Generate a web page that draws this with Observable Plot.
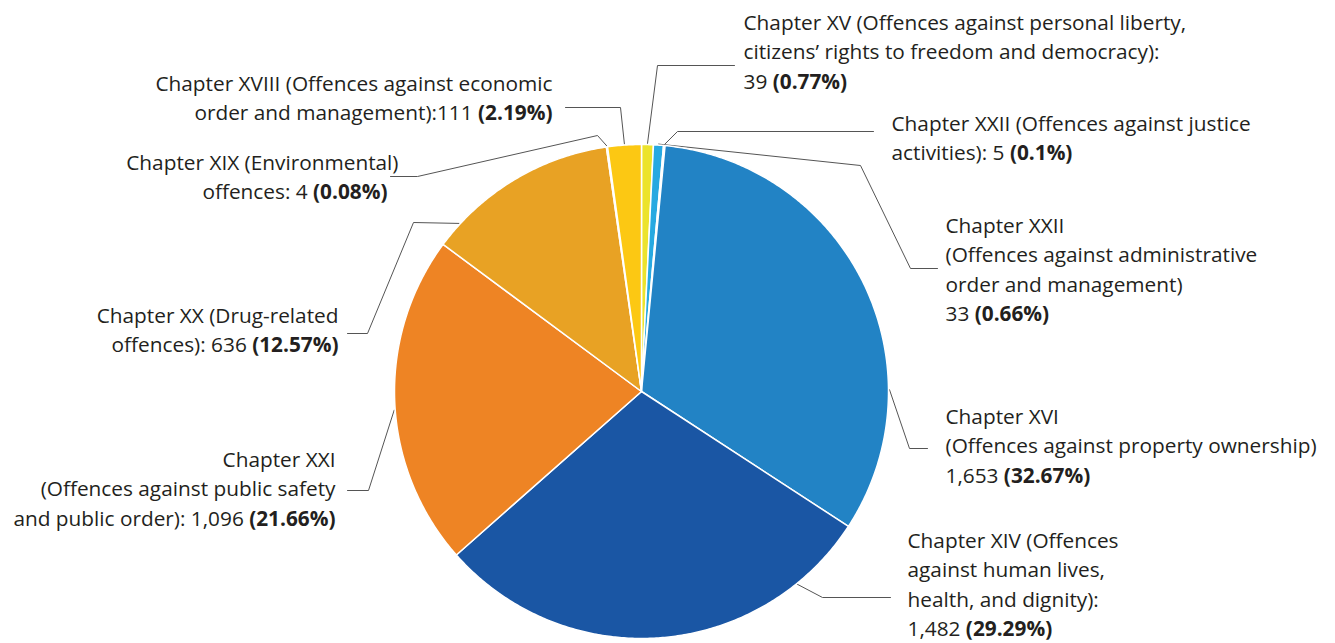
<!DOCTYPE html>
<html>
<head>
<meta charset="utf-8">
<script src="https://cdn.jsdelivr.net/npm/d3@7"></script>
<script src="https://cdn.jsdelivr.net/npm/@observablehq/plot@0.6"></script>
<style>
html, body { margin: 0; padding: 0; background: #ffffff; }
#chart svg { display: block; }
</style>
</head>
<body>
<div id="chart"></div>
<script>
// ---- Data (clockwise from 12 o'clock) ----
const chapterIds = ["XV", "XXII-admin", "XXII-justice", "XVI", "XIV", "XXI", "XX", "XIX", "XVIII"];
const counts = [39, 33, 5, 1653, 1482, 1096, 636, 4, 111];
const shares = [0.77, 0.66, 0.1, 32.67, 29.29, 21.66, 12.57, 0.08, 2.19];
const labelLines = [
  ["Chapter XV (Offences against personal liberty,", "citizens’ rights to freedom and democracy):", "{v}"],
  ["Chapter XXII", "(Offences against administrative", "order and management)", "{v}"],
  ["Chapter XXII (Offences against justice", "activities): {v}"],
  ["Chapter XVI", "(Offences against property ownership)", "{v}"],
  ["Chapter XIV (Offences", "against human lives,", "health, and dignity):", "{v}"],
  ["Chapter XXI", "(Offences against public safety", "and public order): {v}"],
  ["Chapter XX (Drug-related", "offences): {v}"],
  ["Chapter XIX (Environmental)", "offences: {v}"],
  ["Chapter XVIII (Offences against economic", "order and management):{v}"]
];

// ---- Styles & layout (not data) ----
const sliceColors = ["#ece32c", "#27a9e1", "#6cc5ee", "#2283c5", "#1a56a4", "#ee8424", "#e8a224", "#f0b323", "#fcc813"];
const W = 1335, H = 643;
const pie = {cx: 641, cy: 391, r: 247};
const lineStep = 29.5;
const labelLayout = {
  "XV":           {anchor: "start", x: [743], y: 29},
  "XXII-admin":   {anchor: "start", x: [945], y: 232},
  "XXII-justice": {anchor: "start", x: [891], y: 130},
  "XVI":          {anchor: "start", x: [945], y: 423},
  "XIV":          {anchor: "start", x: [907], y: 547},
  "XXI":          {anchor: "end",   x: [335], y: 466},
  "XX":           {anchor: "end",   x: [338], y: 322},
  "XIX":          {anchor: "end",   x: [398, 387], y: 169},
  "XVIII":        {anchor: "end",   x: [552], y: 90}
};
const leaderLayout = {
  "XV":           {f: 0.5,   pts: [[657, 65], [734, 65]]},
  "XXII-admin":   {f: 0.5,   pts: [[860, 165], [910, 268], [937, 268]]},
  "XXII-justice": {f: 0.5,   pts: [[677, 131], [873, 131]]},
  "XVI":          {f: 0.715, pts: [[909, 448], [927, 448]]},
  "XIV":          {f: 0.17,  pts: [[822, 597], [890, 597]]},
  "XXI":          {f: 0.476, pts: [[368, 490], [347, 490]]},
  "XX":           {f: 0.135, pts: [[413, 222], [367, 333], [347, 333]]},
  "XIX":          {f: 0.5,   pts: [[597, 135], [417, 176], [390, 176]]},
  "XVIII":        {f: 0.5,   pts: [[620, 107], [565, 107]]}
};

// ---- Build geometry from values ----
const rows = chapterIds.map((id, i) => ({id, count: counts[i], share: shares[i]}));
const arcs = d3.pie().sort(null).value(d => d.count).startAngle(0).endAngle(2 * Math.PI)(rows);
const polar = (a, rr) => ({x: pie.cx + rr * Math.sin(a), y: pie.cy - rr * Math.cos(a)});

const slicePts = [];
arcs.forEach(a => {
  const id = a.data.id;
  slicePts.push({id, x: pie.cx, y: pie.cy});
  const n = Math.max(2, Math.ceil((a.endAngle - a.startAngle) / (Math.PI / 360)));
  for (let k = 0; k <= n; k++) {
    const ang = a.startAngle + (a.endAngle - a.startAngle) * k / n;
    slicePts.push({id, ...polar(ang, pie.r)});
  }
  slicePts.push({id, x: pie.cx, y: pie.cy});
});

const leaderPts = [];
arcs.forEach(a => {
  const id = a.data.id;
  const L = leaderLayout[id];
  const ang = a.startAngle + (a.endAngle - a.startAngle) * L.f;
  leaderPts.push({id, ...polar(ang, pie.r + 1)});
  L.pts.forEach(p => leaderPts.push({id, x: p[0], y: p[1]}));
});

const fmt = d3.format(",");
const textRows = [];
rows.forEach((d, i) => {
  const L = labelLayout[d.id];
  labelLines[i].forEach((ln, j) => {
    const text = ln.replace("{v}", `${fmt(d.count)} (${d.share}%)`);
    textRows.push({id: d.id, anchor: L.anchor, x: L.x[Math.min(j, L.x.length - 1)], y: L.y + j * lineStep, text});
  });
});

const font = "'Open Sans', 'Noto Sans', sans-serif";
const textOpts = {x: "x", y: "y", text: "text", lineAnchor: "bottom", fontSize: 20.8, fill: "#231f20", fontFamily: font};

const chart = Plot.plot({
  width: W,
  height: H,
  margin: 0,
  x: {type: "linear", domain: [0, W], range: [0, W], axis: null},
  y: {type: "linear", domain: [0, H], range: [0, H], axis: null},
  color: {domain: chapterIds, range: sliceColors},
  style: {fontFamily: font, background: "#ffffff"},
  marks: [
    Plot.line(leaderPts, {x: "x", y: "y", z: "id", stroke: "#555555", strokeWidth: 1, strokeLinejoin: "miter"}),
    Plot.line(slicePts, {x: "x", y: "y", z: "id", fill: "id", stroke: "#ffffff", strokeWidth: 1.5, strokeLinejoin: "round"}),
    Plot.text(textRows.filter(d => d.anchor === "start"), {...textOpts, textAnchor: "start"}),
    Plot.text(textRows.filter(d => d.anchor === "end"), {...textOpts, textAnchor: "end"})
  ]
});

// Bold the percentage parts
chart.querySelectorAll("text").forEach(t => {
  const s = t.textContent;
  const m = s.match(/\([\d.]+%\)/);
  if (!m) return;
  const before = s.slice(0, m.index), after = s.slice(m.index + m[0].length);
  t.textContent = "";
  const ns = "http://www.w3.org/2000/svg";
  t.appendChild(document.createTextNode(before));
  const b = document.createElementNS(ns, "tspan");
  b.setAttribute("font-weight", "bold");
  b.textContent = m[0];
  t.appendChild(b);
  if (after) t.appendChild(document.createTextNode(after));
});

document.getElementById("chart").appendChild(chart);
</script>
</body>
</html>
